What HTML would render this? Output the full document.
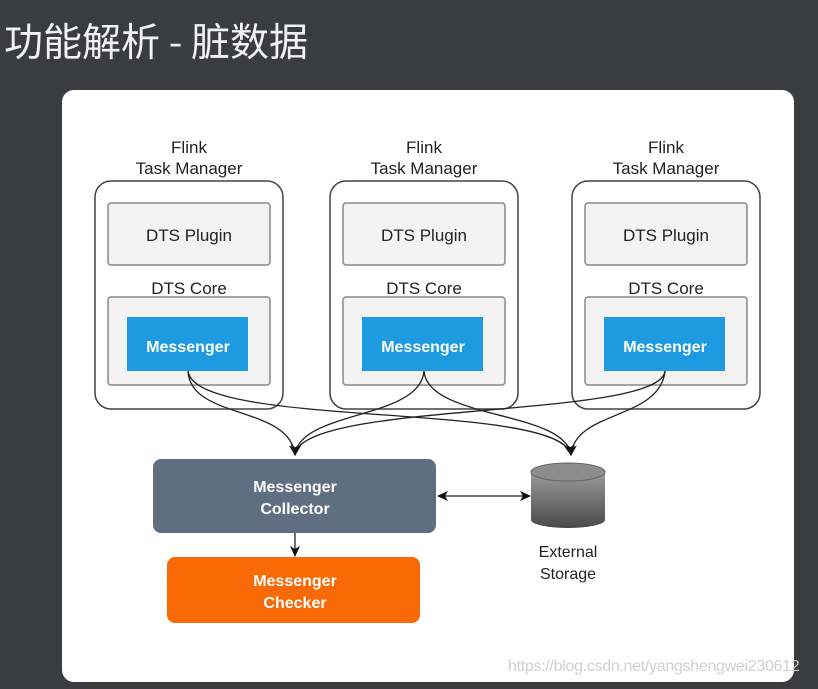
<!DOCTYPE html>
<html><head><meta charset="utf-8"><style>
body{margin:0;width:818px;height:689px;background:#3a3c3f;position:relative;overflow:hidden;font-family:"Liberation Sans","Noto Sans CJK SC",sans-serif}
.t{position:absolute;left:4px;top:12px;color:#f2f2f2;font-size:39px;font-family:"Noto Sans CJK SC","WenQuanYi Zen Hei",sans-serif}
.p{position:absolute;left:62px;top:90px;width:732px;height:592px;background:#fff;border-radius:12px}
.wm{position:absolute;left:508px;top:658px;color:#d0d0d0;font-size:16px;letter-spacing:-0.3px}
</style></head><body>
<div class="t">功能解析 - 脏数据</div>
<div class="p"></div>
<svg width="818" height="689" style="position:absolute;left:0;top:0" font-family="Liberation Sans,sans-serif">
<defs>
<marker id="a" markerWidth="12" markerHeight="12" refX="10" refY="6" orient="auto-start-reverse" markerUnits="userSpaceOnUse"><path d="M0,1 L11,6 L0,11 L3,6 Z" fill="#111"/></marker>
<linearGradient id="g" x1="0" x2="0" y1="0" y2="1"><stop offset="0" stop-color="#9a9a9a"/><stop offset="1" stop-color="#4a4a4a"/></linearGradient>
</defs>
<g font-size="17" fill="#222" text-anchor="middle">
<g id="tm">
<text x="189" y="153">Flink</text><text x="189" y="174">Task Manager</text>
<rect x="95" y="181" width="188" height="228" rx="16" fill="#fff" stroke="#444" stroke-width="1.5"/>
<rect x="108" y="203" width="162" height="62" rx="3" fill="#f3f3f3" stroke="#888" stroke-width="1.5"/>
<text x="189" y="241">DTS Plugin</text>
<text x="189" y="294">DTS Core</text>
<rect x="108" y="297" width="162" height="88" rx="3" fill="#f3f3f3" stroke="#888" stroke-width="1.5"/>
<rect x="127" y="317" width="121" height="54" fill="#1e9be0"/>
<text x="188" y="352" fill="#fff" font-weight="bold" font-size="16">Messenger</text>
</g>
<use href="#tm" x="235"/>
<use href="#tm" x="477"/>
</g>
<g fill="none" stroke="#222" stroke-width="1.3">
<path d="M188,371 C190,420 290,405 295,455" marker-end="url(#a)"/>
<path d="M188,371 C195,430 560,400 571,455" marker-end="url(#a)"/>
<path d="M424,371 C420,420 300,410 295,455" marker-end="url(#a)"/>
<path d="M424,371 C428,420 565,410 571,455" marker-end="url(#a)"/>
<path d="M665,371 C660,420 300,400 295,455" marker-end="url(#a)"/>
<path d="M665,371 C660,420 575,410 571,455" marker-end="url(#a)"/>
<path d="M295,533 L295,556" marker-end="url(#a)"/>
<path d="M438,496 L530,496" marker-end="url(#a)" marker-start="url(#a)"/>
</g>
<rect x="153" y="459" width="283" height="74" rx="8" fill="#5f6e80"/>
<text x="295" y="492" fill="#fff" font-size="16" font-weight="bold" text-anchor="middle">Messenger</text>
<text x="295" y="514" fill="#fff" font-size="16" font-weight="bold" text-anchor="middle">Collector</text>
<rect x="167" y="557" width="253" height="66" rx="8" fill="#f96a06"/>
<text x="295" y="586" fill="#fff" font-size="16" font-weight="bold" text-anchor="middle">Messenger</text>
<text x="295" y="608" fill="#fff" font-size="16" font-weight="bold" text-anchor="middle">Checker</text>
<path d="M531,472 L531,520 A37,8 0 0 0 605,520 L605,472 Z" fill="url(#g)"/>
<ellipse cx="568" cy="472" rx="37" ry="9" fill="#8c8c8c" stroke="#666"/>
<text x="568" y="557" font-size="16" fill="#222" text-anchor="middle">External</text>
<text x="568" y="579" font-size="16" fill="#222" text-anchor="middle">Storage</text>
</svg>
<div class="wm">https://blog.csdn.net/yangshengwei230612</div>
</body></html>
